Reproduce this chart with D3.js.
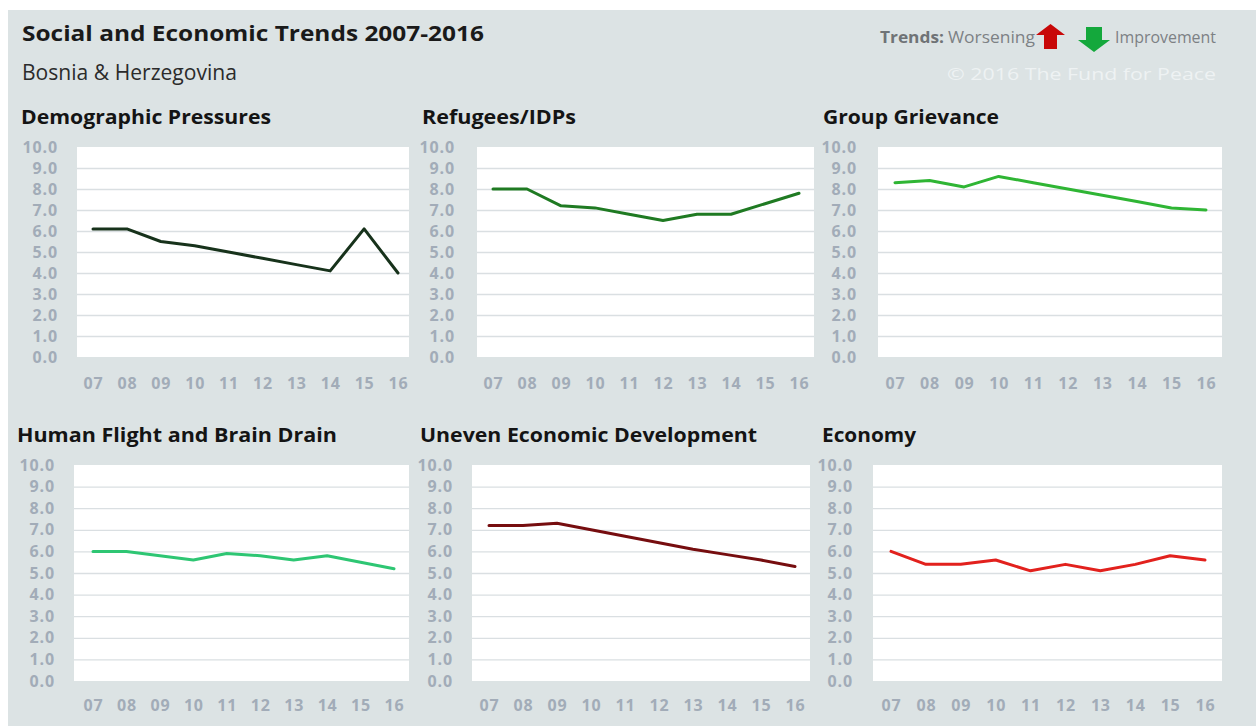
<!DOCTYPE html>
<html>
<head>
<meta charset="utf-8">
<script src="https://cdn.jsdelivr.net/npm/d3@7"></script>
<style>
  html, body { margin: 0; padding: 0; background: #ffffff; }
  svg { display: block; font-family: "Open Sans", "Noto Sans", sans-serif; }
</style>
</head>
<body>
<svg id="chart" width="1256" height="726"></svg>
<script>
// Fragile States Index indicator scores, Bosnia & Herzegovina, 2007-2016
const years = ["07", "08", "09", "10", "11", "12", "13", "14", "15", "16"];
const yTicks = [0, 1, 2, 3, 4, 5, 6, 7, 8, 9, 10];

const demographicPressures = [6.1, 6.1, 5.5, 5.3, 5.0, 4.7, 4.4, 4.1, 6.1, 4.0];
const refugeesIDPs         = [8.0, 8.0, 7.2, 7.1, 6.8, 6.5, 6.8, 6.8, 7.3, 7.8];
const groupGrievance       = [8.3, 8.4, 8.1, 8.6, 8.3, 8.0, 7.7, 7.4, 7.1, 7.0];
const humanFlight          = [6.0, 6.0, 5.8, 5.6, 5.9, 5.8, 5.6, 5.8, 5.5, 5.2];
const unevenDevelopment    = [7.2, 7.2, 7.3, 7.0, 6.7, 6.4, 6.1, 5.85, 5.6, 5.3];
const economy              = [6.0, 5.4, 5.4, 5.6, 5.1, 5.4, 5.1, 5.4, 5.8, 5.6];

const panelTitles = [
  "Demographic Pressures", "Refugees/IDPs", "Group Grievance",
  "Human Flight and Brain Drain", "Uneven Economic Development", "Economy"
];
const panelSeries = [
  demographicPressures, refugeesIDPs, groupGrievance,
  humanFlight, unevenDevelopment, economy
];

// Styling and placement of each small multiple
const panelColors = ["#17321b", "#1f7a22", "#2fb534", "#2ec673", "#760d0f", "#e2211d"];
const panelLayout = [
  { x0: 77,  x1: 409,  y0: 147, y1: 357, p0: 93,  p1: 398,  tickRight: 58,  titleX: 21,  titleY: 124, titleW: 250, xLabY: 383 },
  { x0: 477, x1: 814,  y0: 147, y1: 357, p0: 493, p1: 799,  tickRight: 455, titleX: 422, titleY: 124, titleW: 154, xLabY: 383 },
  { x0: 878, x1: 1222, y0: 147, y1: 357, p0: 895, p1: 1206, tickRight: 857, titleX: 823, titleY: 124, titleW: 176, xLabY: 383 },
  { x0: 74,  x1: 409,  y0: 465, y1: 681, p0: 93,  p1: 394,  tickRight: 55,  titleX: 17,  titleY: 442, titleW: 320, xLabY: 705 },
  { x0: 472, x1: 810,  y0: 465, y1: 681, p0: 489, p1: 795,  tickRight: 453, titleX: 420, titleY: 442, titleW: 337, xLabY: 705 },
  { x0: 873, x1: 1222, y0: 465, y1: 681, p0: 891, p1: 1205, tickRight: 853, titleX: 822, titleY: 442, titleW: 94,  xLabY: 705 }
];

const svg = d3.select("#chart");

// Page background with thin white margin at top and left
svg.append("rect").attr("x", 0).attr("y", 0).attr("width", 1256).attr("height", 726).attr("fill", "#ffffff");
svg.append("rect").attr("x", 8).attr("y", 10).attr("width", 1248).attr("height", 716).attr("fill", "#dce3e4");

// Header
svg.append("text")
  .attr("x", 22).attr("y", 41)
  .attr("font-size", 22).attr("font-weight", 700).attr("fill", "#1a1a1a")
  .attr("textLength", 462).attr("lengthAdjust", "spacingAndGlyphs")
  .text("Social and Economic Trends 2007-2016");

svg.append("text")
  .attr("x", 22).attr("y", 80)
  .attr("font-size", 21).attr("fill", "#2b2b2b")
  .attr("textLength", 215).attr("lengthAdjust", "spacingAndGlyphs")
  .text("Bosnia & Herzegovina");

// Trend legend
const legend = svg.append("g");
legend.append("text")
  .attr("x", 880).attr("y", 43)
  .attr("font-size", 16).attr("font-weight", 700).attr("fill", "#6f7376")
  .attr("textLength", 64).attr("lengthAdjust", "spacingAndGlyphs")
  .text("Trends:");
legend.append("text")
  .attr("x", 948).attr("y", 43)
  .attr("font-size", 16).attr("fill", "#7d8184")
  .attr("textLength", 87).attr("lengthAdjust", "spacingAndGlyphs")
  .text("Worsening");
legend.append("path")
  .attr("d", "M1036,35 L1050.5,24 L1065,35 L1057,35 L1057,49 L1044,49 L1044,35 Z")
  .attr("fill", "#c80808");
legend.append("path")
  .attr("d", "M1086,27 L1102,27 L1102,40 L1110,40 L1094,52 L1078,40 L1086,40 Z")
  .attr("fill", "#14a83c");
legend.append("text")
  .attr("x", 1115).attr("y", 43)
  .attr("font-size", 16).attr("fill", "#7d8184")
  .attr("textLength", 101).attr("lengthAdjust", "spacingAndGlyphs")
  .text("Improvement");
legend.append("text")
  .attr("x", 947).attr("y", 80)
  .attr("font-size", 17).attr("fill", "#eef2f3")
  .attr("textLength", 269).attr("lengthAdjust", "spacingAndGlyphs")
  .text("\u00A9 2016 The Fund for Peace");

// Small multiples
panelSeries.forEach((values, i) => {
  const L = panelLayout[i];
  const g = svg.append("g");

  const x = d3.scalePoint().domain(years).range([L.p0, L.p1]);
  const y = d3.scaleLinear().domain([0, 10]).range([L.y1, L.y0]);

  g.append("text")
    .attr("x", L.titleX).attr("y", L.titleY)
    .attr("font-size", 19).attr("font-weight", 700).attr("fill", "#141414")
    .attr("textLength", L.titleW).attr("lengthAdjust", "spacingAndGlyphs")
    .text(panelTitles[i]);

  g.append("rect")
    .attr("x", L.x0).attr("y", y(10))
    .attr("width", L.x1 - L.x0).attr("height", y(0) - y(10))
    .attr("fill", "#ffffff");

  // horizontal gridlines
  const grid = g.append("g")
    .attr("transform", `translate(${L.x0},0)`)
    .call(d3.axisRight(y).tickValues(yTicks.filter(t => t > 0 && t < 10))
      .tickSize(L.x1 - L.x0).tickFormat(""));
  grid.select(".domain").remove();
  grid.selectAll(".tick line").attr("stroke", "#dadfe2").attr("stroke-width", 1.3);

  // y-axis labels
  const yAxis = g.append("g")
    .attr("transform", `translate(${L.tickRight},0)`)
    .call(d3.axisLeft(y).tickValues(yTicks).tickSize(0).tickPadding(0).tickFormat(d3.format(".1f")));
  yAxis.select(".domain").remove();
  yAxis.selectAll("text")
    .attr("font-family", "'Open Sans', sans-serif")
    .attr("font-size", 16).attr("font-weight", 700)
    .attr("letter-spacing", "0.9px")
    .attr("fill", "#a2acb8");

  // x-axis labels
  const xAxis = g.append("g")
    .attr("transform", `translate(0,${L.xLabY})`)
    .call(d3.axisBottom(x).tickSize(0).tickPadding(0));
  xAxis.select(".domain").remove();
  xAxis.selectAll("text")
    .attr("dy", "0.35em")
    .attr("font-family", "'Open Sans', sans-serif")
    .attr("font-size", 16).attr("font-weight", 700)
    .attr("letter-spacing", "0.8px")
    .attr("fill", "#a2acb8");

  const line = d3.line()
    .x((d, j) => x(years[j]))
    .y(d => y(d));

  g.append("path")
    .datum(values)
    .attr("d", line)
    .attr("fill", "none")
    .attr("stroke", panelColors[i])
    .attr("stroke-width", 3)
    .attr("stroke-linejoin", "round")
    .attr("stroke-linecap", "round");
});
</script>
</body>
</html>
